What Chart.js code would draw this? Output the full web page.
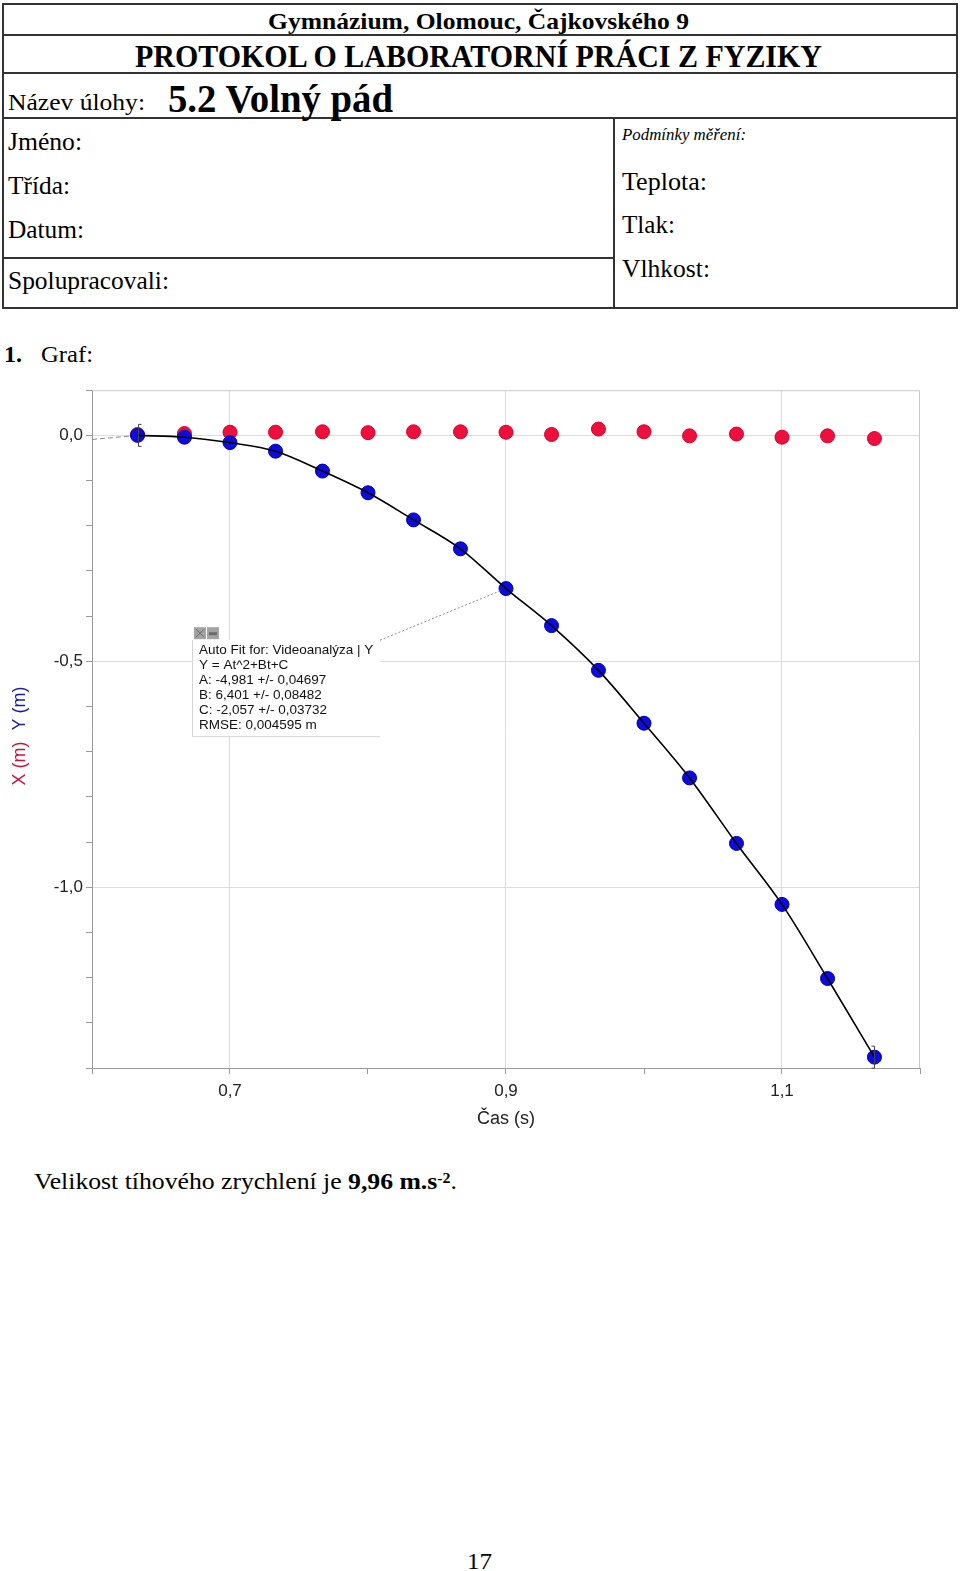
<!DOCTYPE html>
<html>
<head>
<meta charset="utf-8">
<script src="https://cdn.jsdelivr.net/npm/chart.js@4.4.1/dist/chart.umd.min.js"></script>
<style>
body { margin: 0; background: #fff; }
#page { position: relative; width: 960px; height: 1571px; overflow: hidden; font-family: "Liberation Serif", "Times New Roman", serif; color: #000; }
.t { position: absolute; white-space: nowrap; line-height: 1; transform-origin: 0 50%; }
.ln { position: absolute; background: #333; }
#box { position: absolute; left: 0; top: 377px; width: 940px; height: 755px; }
</style>
</head>
<body>
<div id="page">
  <!-- header table -->
  <div class="ln" style="left:2px;top:3px;width:956px;height:2px"></div>
  <div class="ln" style="left:2px;top:34px;width:956px;height:2px"></div>
  <div class="ln" style="left:2px;top:72px;width:956px;height:2px"></div>
  <div class="ln" style="left:2px;top:117px;width:956px;height:2px"></div>
  <div class="ln" style="left:2px;top:257px;width:613px;height:2px"></div>
  <div class="ln" style="left:2px;top:307px;width:956px;height:2px"></div>
  <div class="ln" style="left:2px;top:3px;width:2px;height:306px"></div>
  <div class="ln" style="left:956px;top:3px;width:2px;height:306px"></div>
  <div class="ln" style="left:613px;top:117px;width:2px;height:192px"></div>

  <div class="t" data-x="268" data-y="20" data-s="24" data-w="421" style="font-weight:bold">Gymnázium, Olomouc, Čajkovského 9</div>
  <div class="t" data-x="135" data-y="54" data-s="32" data-w="687" style="font-weight:bold">PROTOKOL O LABORATORNÍ PRÁCI Z FYZIKY</div>
  <div class="t" data-x="8" data-y="101" data-s="24" data-w="137">Název úlohy:</div>
  <div class="t" data-x="168" data-y="97" data-s="40" data-w="225" style="font-weight:bold">5.2 Volný pád</div>
  <div class="t" data-x="8" data-y="140" data-s="25" data-w="74">Jméno:</div>
  <div class="t" data-x="8" data-y="184" data-s="25" data-w="62">Třída:</div>
  <div class="t" data-x="8" data-y="228" data-s="25" data-w="76">Datum:</div>
  <div class="t" data-x="8" data-y="279" data-s="25" data-w="161">Spolupracovali:</div>
  <div class="t" data-x="622" data-y="134" data-s="17" data-w="124" style="font-style:italic">Podmínky měření:</div>
  <div class="t" data-x="622" data-y="180" data-s="25" data-w="85">Teplota:</div>
  <div class="t" data-x="622" data-y="223" data-s="25" data-w="53">Tlak:</div>
  <div class="t" data-x="622" data-y="267" data-s="25" data-w="88">Vlhkost:</div>

  <div class="t" data-x="4" data-y="353" data-s="24" data-w="18" style="font-weight:bold">1.</div>
  <div class="t" data-x="41" data-y="353" data-s="24" data-w="52">Graf:</div>

  <div id="box"><canvas id="chart1"></canvas></div>

  <div class="t" data-x="34" data-y="1180" data-s="24" data-w="423">Velikost tíhového zrychlení je <b>9,96 m.s<span style="position:relative;top:-0.45em;font-size:0.62em">-2</span></b>.</div>
  <div class="t" data-x="467" data-y="1560" data-s="24" data-w="25">17</div>
</div>

<script>
// measured data (time in s, position in m)
const times = [0.633, 0.667, 0.700, 0.733, 0.767, 0.800, 0.833, 0.867, 0.900, 0.933, 0.967, 1.000, 1.033, 1.067, 1.100, 1.133, 1.167];
const xPos = [0.002, 0.004, 0.007, 0.007, 0.008, 0.006, 0.008, 0.008, 0.007, 0.002, 0.014, 0.008, -0.001, 0.003, -0.004, -0.001, -0.007];
const yPos = [0.000, -0.004, -0.016, -0.035, -0.079, -0.127, -0.187, -0.251, -0.339, -0.421, -0.520, -0.637, -0.758, -0.903, -1.038, -1.202, -1.376];

// dashed start of the fit curve (left of the first point)
const fitStartT = [0.600, 0.633];
const fitStartY = [-0.009, 0.000];

const fitText = [
  'Auto Fit for: Videoanalýza | Y',
  'Y = At^2+Bt+C',
  'A: -4,981 +/- 0,04697',
  'B: 6,401 +/- 0,08482',
  'C: -2,057 +/- 0,03732',
  'RMSE: 0,004595 m'
];
const fitPointIndex = 8;

const xMin = 0.6, xMax = 1.2, yMin = -1.4, yMax = 0.1;

// fit header texts to their widths
document.querySelectorAll('.t').forEach(function (el) {
  const s = +el.dataset.s;
  el.style.fontSize = s + 'px';
  el.style.left = el.dataset.x + 'px';
  el.style.top = (el.dataset.y - 0.45 * s) + 'px';
  const w = el.getBoundingClientRect().width;
  el.style.transform = 'scaleX(' + (el.dataset.w / w) + ')';
});

function pts(xs, ys) {
  return xs.map(function (v, i) { return { x: v, y: ys[i] }; });
}
function comma(v, d) {
  return (Math.round(v * 10) / 10 + 0).toFixed(d).replace('.', ',');
}

const extras = {
  id: 'extras',
  beforeDatasetsDraw(chart) {
    const { ctx, chartArea: a } = chart;
    ctx.save();
    ctx.strokeStyle = '#c8c8c8';
    ctx.lineWidth = 1;
    ctx.beginPath();
    ctx.moveTo(a.left, a.top + 0.5);
    ctx.lineTo(a.right - 0.5, a.top + 0.5);
    ctx.lineTo(a.right - 0.5, a.bottom);
    ctx.stroke();
    ctx.restore();
  },
  afterDatasetsDraw(chart) {
    const { ctx, chartArea: a } = chart;
    const meta = chart.getDatasetMeta(1).data;
    const pt = meta[fitPointIndex];
    const bx = a.left + 100, by = a.top + 250, bw = 188, bh = 96;
    ctx.save();
    // error brackets on first and last point
    ctx.strokeStyle = '#444';
    ctx.lineWidth = 1;
    [[meta[0], 1], [meta[meta.length - 1], -1]].forEach(function (p) {
      const x = Math.round(p[0].x) + 0.5, y = p[0].y;
      ctx.beginPath();
      ctx.moveTo(x + 3 * p[1], y - 11);
      ctx.lineTo(x, y - 11);
      ctx.lineTo(x, y + 11);
      ctx.lineTo(x + 3 * p[1], y + 11);
      ctx.stroke();
    });
    // leader line
    ctx.strokeStyle = '#888';
    ctx.setLineDash([2, 2]);
    ctx.beginPath();
    ctx.moveTo(bx + bw, by);
    ctx.lineTo(pt.x - 5, pt.y + 2);
    ctx.stroke();
    ctx.setLineDash([]);
    // box
    ctx.fillStyle = '#fff';
    ctx.fillRect(bx, by, bw, bh);
    ctx.strokeStyle = '#d4d4d4';
    ctx.beginPath();
    ctx.moveTo(bx + 0.5, by);
    ctx.lineTo(bx + 0.5, by + bh + 0.5);
    ctx.lineTo(bx + bw, by + bh + 0.5);
    ctx.stroke();
    // close / minimise icons
    ctx.fillStyle = '#a3a3a3';
    ctx.fillRect(bx + 2, by - 13, 12, 12);
    ctx.fillRect(bx + 15, by - 13, 12, 12);
    ctx.strokeStyle = '#6a6a6a';
    ctx.beginPath();
    ctx.moveTo(bx + 4, by - 11); ctx.lineTo(bx + 12, by - 3);
    ctx.moveTo(bx + 12, by - 11); ctx.lineTo(bx + 4, by - 3);
    ctx.stroke();
    ctx.fillStyle = '#6a6a6a';
    ctx.fillRect(bx + 17, by - 8, 8, 3);
    // text
    ctx.fillStyle = '#111';
    ctx.font = '13.5px "Liberation Sans", Arial, sans-serif';
    ctx.textBaseline = 'middle';
    fitText.forEach(function (s, i) {
      ctx.fillText(s, bx + 7, by + 10 + i * 15.1);
    });
    ctx.restore();
  },
  afterDraw(chart) {
    const { ctx, chartArea: a } = chart;
    const gap = 11;
    ctx.save();
    ctx.font = '18px "Liberation Sans", Arial, sans-serif';
    ctx.textBaseline = 'middle';
    const w1 = ctx.measureText('X (m)').width, w2 = ctx.measureText('Y (m)').width;
    ctx.translate(20, (a.top + a.bottom) / 2 + 7);
    ctx.rotate(-Math.PI / 2);
    let x0 = -(w1 + gap + w2) / 2;
    ctx.fillStyle = '#c8143c';
    ctx.fillText('X (m)', x0, 0);
    ctx.fillStyle = '#1c1c96';
    ctx.fillText('Y (m)', x0 + w1 + gap, 0);
    ctx.restore();
  }
};

document.addEventListener('DOMContentLoaded', function () {
  const ctx = document.getElementById('chart1');
  new Chart(ctx, {
    type: 'scatter',
    data: {
      datasets: [
        {
          label: 'fit',
          data: pts(times, yPos),
          showLine: true,
          pointRadius: 0,
          borderColor: '#000',
          borderWidth: 1.6,
          cubicInterpolationMode: 'monotone',
          order: 0
        },
        {
          label: 'Y',
          data: pts(times, yPos),
          pointRadius: 7,
          backgroundColor: '#0c0ce0',
          borderColor: '#0000a8',
          borderWidth: 1,
          order: 1
        },
        {
          label: 'X',
          data: pts(times, xPos),
          pointRadius: 7,
          backgroundColor: '#ee0f3c',
          borderColor: '#d6002c',
          borderWidth: 1,
          order: 2
        },
        {
          label: 'fit start',
          data: pts(fitStartT, fitStartY),
          showLine: true,
          pointRadius: 0,
          borderColor: '#8a8a8a',
          borderWidth: 1,
          borderDash: [5, 3],
          order: 3
        }
      ]
    },
    options: {
      responsive: true,
      maintainAspectRatio: false,
      animation: false,
      layout: { padding: { left: 0, right: 20, top: 0, bottom: 0 } },
      plugins: { legend: { display: false }, tooltip: { enabled: false } },
      scales: {
        x: {
          type: 'linear',
          min: xMin,
          max: xMax,
          afterFit: function (s) { s.height = 64; },
          ticks: {
            stepSize: 0.1,
            padding: 7,
            autoSkip: false,
            maxRotation: 0,
            color: '#222',
            font: { family: '"Liberation Sans", Arial, sans-serif', size: 17 },
            callback: function (v) { return Math.abs(Math.round(v * 10) % 2) === 1 ? comma(v, 1) : ''; }
          },
          grid: {
            color: function (c) { return Math.abs(Math.round(c.tick.value * 10) % 2) === 1 ? '#dcdcdc' : 'rgba(0,0,0,0)'; },
            tickColor: '#9a9a9a',
            tickLength: 6
          },
          border: { color: '#9a9a9a' },
          title: {
            display: true,
            text: 'Čas (s)',
            color: '#222',
            padding: { top: 4, bottom: 2 },
            font: { family: '"Liberation Sans", Arial, sans-serif', size: 18 }
          }
        },
        y: {
          type: 'linear',
          min: yMin,
          max: yMax,
          afterFit: function (s) { s.width = 92; },
          ticks: {
            stepSize: 0.1,
            autoSkip: false,
            color: '#222',
            font: { family: '"Liberation Sans", Arial, sans-serif', size: 17 },
            callback: function (v) { return Math.round(v * 10) % 5 === 0 ? comma(v, 1) : ''; }
          },
          grid: {
            color: function (c) { return Math.round(c.tick.value * 10) % 5 === 0 ? '#dcdcdc' : 'rgba(0,0,0,0)'; },
            tickColor: '#9a9a9a',
            tickLength: 6
          },
          border: { color: '#9a9a9a' }
        }
      }
    },
    plugins: [extras]
  });
});
</script>
</body>
</html>
